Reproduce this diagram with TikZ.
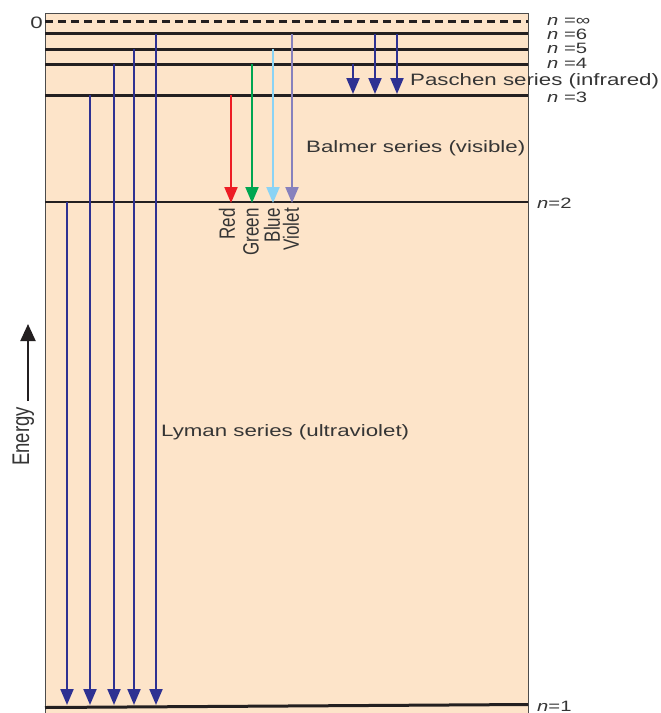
\documentclass[tikz,border=0pt]{standalone}
\usepackage{fontspec}
\setmainfont{Liberation Sans}
\usetikzlibrary{arrows.meta, positioning}
\definecolor{peach}{HTML}{FDE4C9}
\definecolor{lymanBlue}{HTML}{2E3192}
\definecolor{balRed}{HTML}{ED1C24}
\definecolor{balGreen}{HTML}{00A651}
\definecolor{balBlue}{HTML}{8AD3F5}
\definecolor{balViolet}{HTML}{8781BD}
\definecolor{lvlDark}{HTML}{231F20}
\definecolor{txtGray}{HTML}{353535}
\newcommand{\wide}[1]{\scalebox{1.35}[1]{#1}}
\newcommand{\tall}[1]{\scalebox{1}[1.3]{#1}}

\begin{document}
\begin{tikzpicture}[x=1pt, y=-1pt,
    level/.style={line width=3pt, draw=lvlDark},
    trans/.style={line width=2pt, -{Triangle[width=13pt, length=16pt]}},
    lbl/.style={font=\fontsize{16.5}{19}\selectfont, text=txtGray, inner sep=0pt},
    nlbl/.style={lbl, font=\fontsize{15}{17}\selectfont, anchor=base west},
    vlbl/.style={font=\fontsize{17}{19}\selectfont, text=txtGray, inner sep=0pt,
                 rotate=90, anchor=east},
  ]
    \useasboundingbox (0,0) rectangle (661,713);

    % background box
    \fill[peach] (45,13) rectangle (528,713);
    \draw[line width=0.8pt, draw=black!70] (45,713) -- (45,13) -- (528,13) -- (528,713);

    % energy levels
    \coordinate (infL) at (45,21.5);  \coordinate (infR) at (528,21.5);
    \draw[level, line width=2.5pt, dash pattern=on 8pt off 5pt] (infL) -- (infR);
    \foreach \nm/\y in {six/33.5, five/49, four/64, three/95} {
      \coordinate (\nm L) at (45,\y);
      \coordinate (\nm R) at (528,\y);
      \draw[level] (\nm L) -- (\nm R);
    }
    \coordinate (twoL) at (45,202);  \coordinate (twoR) at (528,202);
    \draw[level, line width=2pt] (twoL) -- (twoR);
    \coordinate (oneL) at (45,707.5);  \coordinate (oneR) at (528,704.5);
    \draw[level] (oneL) -- (oneR);

    % Lyman series
    \foreach \x/\t [count=\i] in {67/202, 90/95, 114/64, 134/49, 156/34} {
      \coordinate (ly\i a) at (\x,\t);
      \coordinate (ly\i b) at (\x,705);
      \draw[trans, lymanBlue] (ly\i a) -- (ly\i b);
    }

    % Balmer series
    \foreach \x/\t/\c [count=\i] in {231/95/balRed, 252/64/balGreen,
                                     273/49/balBlue, 292/34/balViolet} {
      \coordinate (ba\i a) at (\x,\t);
      \coordinate (ba\i b) at (\x,203);
      \draw[trans, \c] (ba\i a) -- (ba\i b);
    }

    % Paschen series
    \foreach \x/\t [count=\i] in {353/64, 375/34, 397/34} {
      \coordinate (pa\i a) at (\x,\t);
      \coordinate (pa\i b) at (\x,94);
      \draw[trans, lymanBlue] (pa\i a) -- (pa\i b);
    }

    % level labels
    \node[lbl, anchor=east] (zero) at (43,23) {\wide{0}};
    \node[nlbl] (ninf) at (547,25) {\wide{\textit{n} =∞}};
    \node[nlbl] (nsix) at (547,39) {\wide{\textit{n} =6}};
    \node[nlbl] (nfive) at (547,53.5) {\wide{\textit{n} =5}};
    \node[nlbl] (nfour) at (547,68) {\wide{\textit{n} =4}};
    \node[nlbl] (nthree) at (547,102) {\wide{\textit{n} =3}};
    \node[nlbl] (ntwo) at (537,208.5) {\wide{\textit{n}=2}};
    \node[nlbl] (none) at (537,711) {\wide{\textit{n}=1}};

    % series labels
    \node[lbl, anchor=base west] (paschen) at (410,85) {\wide{Paschen series (infrared)}};
    \node[lbl, anchor=base west] (balmer) at (306,152.5) {\wide{Balmer series (visible)}};
    \node[lbl, anchor=base west] (lyman) at (161,436) {\wide{Lyman series (ultraviolet)}};

    % colour labels
    \node[vlbl] (red) at (227,208) {\tall{Red}};
    \node[vlbl] (green) at (251,208) {\tall{Green}};
    \node[vlbl] (blue) at (272,208) {\tall{Blue}};
    \node[vlbl] (violet) at (291,208) {\tall{Violet}};

    % energy axis
    \node[lbl, font=\fontsize{18.5}{20}\selectfont, rotate=90, anchor=base west]
      (energy) at (29,466) {\tall{Energy}};
    \coordinate (eBot) at (28,401);
    \coordinate (eTop) at (28,324);
    \draw[line width=2pt, draw=lvlDark, -{Triangle[width=15pt, length=17pt]}]
      (eBot) -- (eTop);
\end{tikzpicture}
\end{document}
